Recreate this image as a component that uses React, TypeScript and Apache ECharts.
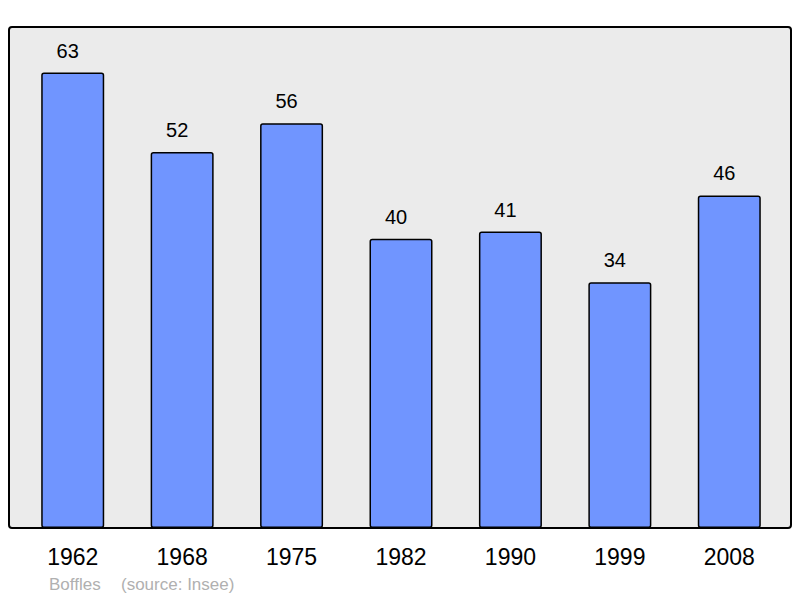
import React, { useEffect, useRef } from "react";
import * as echarts from "echarts";

const categories = ["1962", "1968", "1975", "1982", "1990", "1999", "2008"];
const values = [63, 52, 56, 40, 41, 34, 46];
const footerName = "Boffles";
const footerSource = "(source: Insee)";

export default function App() {
  const ref = useRef<HTMLDivElement>(null);
  useEffect(() => {
    if (!ref.current) return;
    const chart = echarts.init(ref.current, undefined, { renderer: "svg" });
    chart.setOption({
      animation: false,
      backgroundColor: "#ffffff",
      textStyle: { fontFamily: "Liberation Sans, Arial, sans-serif" },
      grid: { left: 18, right: 16, top: 27, bottom: 70, containLabel: false },
      xAxis: {
        type: "category",
        data: categories,
        axisLine: { show: false },
        axisTick: { show: false },
        axisLabel: { color: "#000", fontSize: 23, margin: 17, fontFamily: "Liberation Sans, Arial, sans-serif" },
      },
      yAxis: {
        type: "value",
        min: 0,
        max: 69.3,
        show: false,
        splitLine: { show: false },
      },
      graphic: [
        {
          type: "rect",
          z: -10,
          shape: { x: 9, y: 27, width: 782, height: 501, r: 3 },
          style: { fill: "#ebebeb", stroke: "#000", lineWidth: 2 },
        },
        {
          type: "text",
          x: 49,
          y: 584,
          style: { text: footerName, fill: "#b0b0b0", fontSize: 17, fontFamily: "Liberation Sans, Arial, sans-serif", verticalAlign: "middle" },
        },
        {
          type: "text",
          x: 121,
          y: 584,
          style: { text: footerSource, fill: "#b0b0b0", fontSize: 17, fontFamily: "Liberation Sans, Arial, sans-serif", verticalAlign: "middle" },
        },
      ],
      series: [
        {
          type: "bar",
          data: values,
          barWidth: 63,
          itemStyle: { color: "#7095ff", borderColor: "#000", borderWidth: 1.5, borderRadius: 2 },
          label: {
            show: true,
            position: "top",
            distance: 11,
            offset: [-5, -1],
            color: "#000",
            fontSize: 20,
            fontFamily: "Liberation Sans, Arial, sans-serif",
          },
        },
      ],
    });
    return () => chart.dispose();
  }, []);
  return <div ref={ref} style={{ width: 800, height: 598, position: "absolute", left: 0, top: 0 }} />;
}
